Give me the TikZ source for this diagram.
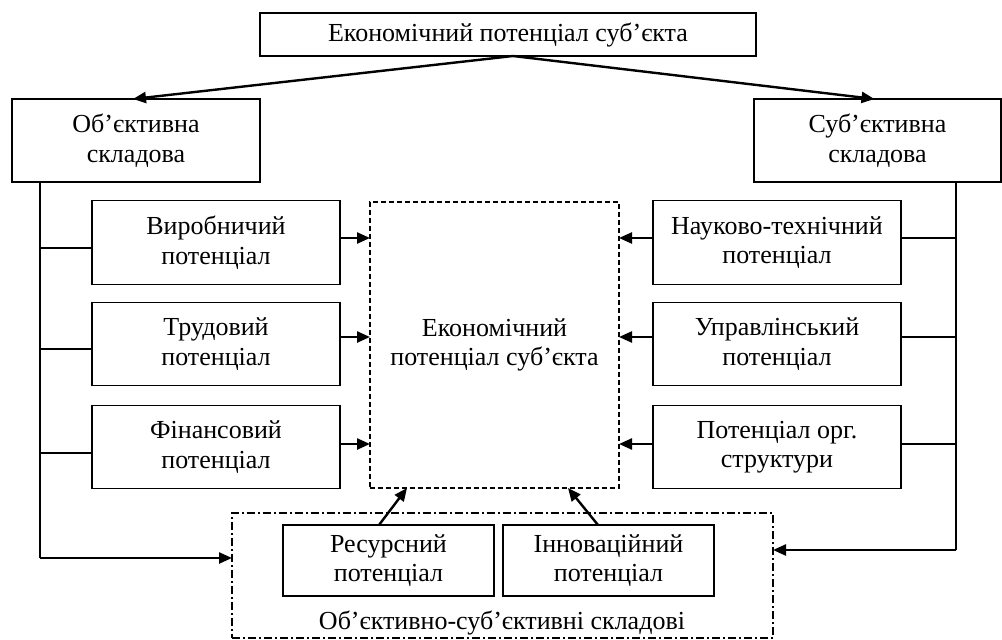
\documentclass[tikz,border=0pt]{standalone}
\usepackage{fontspec}
\setmainfont{Liberation Serif}
\usetikzlibrary{arrows.meta}
\begin{document}
\begin{tikzpicture}[x=1pt,y=-1pt,
  txt/.style={font=\fontsize{26}{29.5}\selectfont, align=center},
  box/.style={txt, draw, line width=1.3pt, inner sep=0pt, outer sep=0pt},
  pbox/.style={box, minimum width=248pt, minimum height=83.5pt},
  arr/.style={line width=2.4pt, -{Triangle[length=13pt,width=11pt]}},
  thinl/.style={line width=1.3pt}]
\useasboundingbox (0,0) rectangle (1002,640);
% top
\node[box, minimum width=496pt, minimum height=43pt] (top) at (508,34.5) {Економічний потенціал суб’єкта};
\node[box, minimum width=248pt, minimum height=83pt] (obj) at (136,140.5) {Об’єктивна\\складова};
\node[box, minimum width=247pt, minimum height=83pt] (subj) at (877.5,140.5) {Суб’єктивна\\складова};
\draw[arr] ([xshift=5pt]top.south) -- ([xshift=-3pt]obj.north);
\draw[arr] ([xshift=5pt]top.south) -- ([xshift=-3pt]subj.north);
% left boxes
\node[pbox] (b1) at (216,242.5) {Виробничий\\потенціал};
\node[pbox] (b2) at (216,344) {Трудовий\\потенціал};
\node[pbox] (b3) at (216,447) {Фінансовий\\потенціал};
% right boxes
\node[pbox] (r1) at (777,242.5) {Науково-технічний\\потенціал};
\node[pbox] (r2) at (777,344) {Управлінський\\потенціал};
\node[pbox] (r3) at (777,447) {Потенціал орг.\\структури};
% centre
\node[txt, draw, line width=2.2pt, dash pattern=on 5pt off 3pt, minimum width=249pt, minimum height=286pt, inner sep=0pt, outer sep=0pt] (eco) at (494.5,345) {Економічний\\потенціал суб’єкта};
% bottom
\node[draw, line width=2.2pt, dash pattern=on 8pt off 3pt on 2pt off 3pt, minimum width=541pt, minimum height=125pt, inner sep=0pt, outer sep=0pt] (bot) at (502.5,575.5) {};
\node[box, minimum width=211pt, minimum height=71pt] (res) at (388.5,560.5) {Ресурсний\\потенціал};
\node[box, minimum width=211pt, minimum height=71pt] (inn) at (608.5,560.5) {Інноваційний\\потенціал};
\node[txt, inner sep=0pt] (lab) at (502,623) {Об’єктивно-суб’єктивні складові};
% left trunk
\coordinate (L0) at (40,182);
\coordinate (L4) at (40,558);
\draw[thinl] (L0) -- (L4);
\draw[arr] (L4) -- (L4 -| bot.west);
\draw[thinl] ([yshift=-5.5pt]b1.west) -- ++(-52,0);
\draw[thinl] ([yshift=-5pt]b2.west) -- ++(-52,0);
\draw[thinl] ([yshift=-6pt]b3.west) -- ++(-52,0);
\draw[arr] ([yshift=4.5pt]b1.east) -- ++(30,0);
\draw[arr] ([yshift=7pt]b2.east) -- ++(30,0);
\draw[arr] ([yshift=3pt]b3.east) -- ++(30,0);
% right trunk
\coordinate (R0) at (956,182);
\coordinate (R4) at (956,550);
\draw[thinl] (R0) -- (R4);
\draw[arr] (R4) -- (R4 -| bot.east);
\draw[thinl] ([yshift=4.5pt]r1.east) -- ++(55,0);
\draw[thinl] ([yshift=7pt]r2.east) -- ++(55,0);
\draw[thinl] ([yshift=3pt]r3.east) -- ++(55,0);
\draw[arr] ([yshift=4.5pt]r1.west) -- ++(-34,0);
\draw[arr] ([yshift=7pt]r2.west) -- ++(-34,0);
\draw[arr] ([yshift=3pt]r3.west) -- ++(-34,0);
% bottom to centre
\draw[arr] ([xshift=-9.5pt]res.north) -- ([xshift=-87.5pt]eco.south);
\draw[arr] ([xshift=-10.5pt]inn.north) -- ([xshift=73.5pt]eco.south);
\end{tikzpicture}
\end{document}
